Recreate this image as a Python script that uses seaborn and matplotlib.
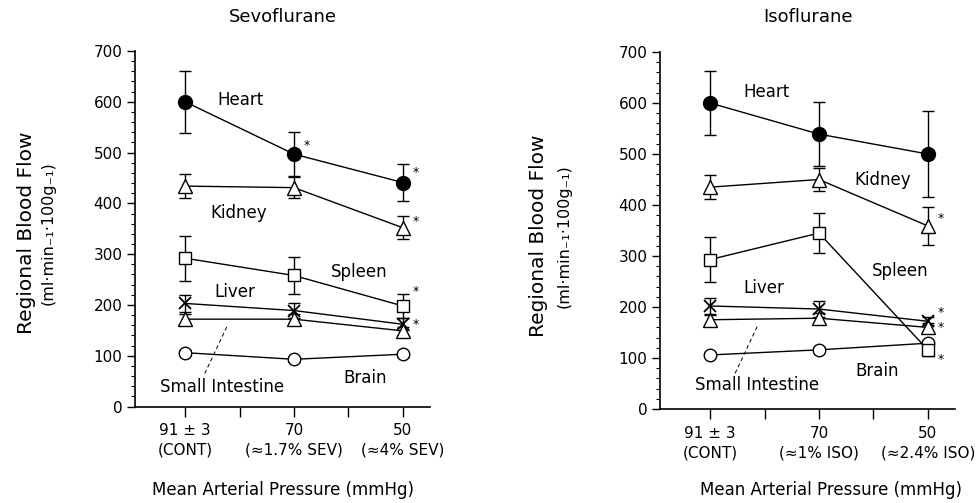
import numpy as np
import pandas as pd
import seaborn as sns
import matplotlib.pyplot as plt
from matplotlib.ticker import MultipleLocator, FixedLocator

# x categories (mean arterial pressure steps)
sev_ticks = ["91 ± 3\n(CONT)", "70\n(≈1.7% SEV)", "50\n(≈4% SEV)"]
iso_ticks = ["91 ± 3\n(CONT)", "70\n(≈1% ISO)", "50\n(≈2.4% ISO)"]
organs = ["Heart", "Kidney", "Spleen", "Liver", "Small Intestine", "Brain"]

# Sevoflurane: means and SE (ml/min/100g)
sev_heart = [600, 497, 441]
sev_heart_err = [61, 43, 37]
sev_kidney = [434, 431, 352]
sev_kidney_err = [23, 20, 23]
sev_spleen = [292, 258, 198]
sev_spleen_err = [44, 37, 24]
sev_liver = [203, 189, 162]
sev_liver_err = [16, 15, 12]
sev_si = [172, 172, 149]
sev_si_err = [10, 10, 8]
sev_brain = [106, 93, 103]
sev_brain_err = [5, 5, 5]

# Isoflurane
iso_heart = [600, 539, 500]
iso_heart_err = [62, 62, 84]
iso_kidney = [435, 450, 359]
iso_kidney_err = [23, 22, 37]
iso_spleen = [293, 345, 116]
iso_spleen_err = [44, 39, 13]
iso_liver = [202, 196, 172]
iso_liver_err = [16, 15, 8]
iso_si = [175, 178, 160]
iso_si_err = [10, 10, 8]
iso_brain = [106, 116, 129]
iso_brain_err = [5, 5, 5]

# significance stars: (x index, y value)
sev_stars = [(1, 513), (2, 460), (2, 364), (2, 226), (2, 162)]
iso_stars = [(2, 374), (2, 189), (2, 159), (2, 98)]

# organ label positions (x, y) in data units
sev_labels = {"Heart": (0.51, 603), "Kidney": (0.49, 381), "Spleen": (1.6, 265),
              "Liver": (0.46, 225), "Small Intestine": (0.34, 39), "Brain": (1.65, 56)}
iso_labels = {"Heart": (0.52, 621), "Kidney": (1.59, 450), "Spleen": (1.75, 270),
              "Liver": (0.49, 237), "Small Intestine": (0.43, 48), "Brain": (1.53, 74)}

styles = {
    "Heart": dict(marker="o", mfc="black", ms=10),
    "Kidney": dict(marker="^", mfc="white", ms=10),
    "Spleen": dict(marker="s", mfc="white", ms=9),
    "Liver": dict(marker="x", mfc="none", ms=8, mew=1.3),
    "Small Intestine": dict(marker="^", mfc="white", ms=10),
    "Brain": dict(marker="o", mfc="white", ms=9),
}

sns.set_style("ticks")
plt.rcParams['font.family'] = ['DejaVu Sans']
for k in ["text.color", "axes.labelcolor", "xtick.color", "ytick.color", "axes.edgecolor"]:
    plt.rcParams[k] = "black"


def draw_panel(ax, data, ticklabels, labels, stars, leader, title, title_x):
    x = [0, 1, 2]
    for organ in ["Brain", "Small Intestine", "Liver", "Spleen", "Kidney", "Heart"]:
        vals, errs = data[organ]
        ax.errorbar(x, vals, yerr=errs, fmt="none", ecolor="black", elinewidth=1,
                    capsize=4, capthick=1, zorder=2)
        st = styles[organ]
        sns.lineplot(x=x, y=vals, ax=ax, color="black", linewidth=1,
                     marker=st["marker"], markerfacecolor=st["mfc"], markeredgecolor="black",
                     markersize=st["ms"], markeredgewidth=st.get("mew", 1), zorder=3)
    for name, (tx, ty) in labels.items():
        ax.text(tx, ty, name, ha="center", va="center", fontsize=12)
    for sx, sy in stars:
        ax.text(sx + 0.12, sy, "*", ha="center", va="center", fontsize=9)
    ax.plot(leader[0], leader[1], color="black", lw=0.7, ls=(0, (4, 3)))

    ax.set_xlim(-0.46, 2.25)
    ax.set_ylim(0, 700)
    ax.set_xticks(x)
    ax.set_xticklabels(ticklabels, fontsize=11, linespacing=1.4)
    ax.xaxis.set_minor_locator(FixedLocator([0.5, 1.5]))
    ax.yaxis.set_major_locator(MultipleLocator(100))
    ax.yaxis.set_minor_locator(MultipleLocator(20))
    ax.tick_params(axis="y", which="major", length=6, width=1, labelsize=11, pad=3)
    ax.tick_params(axis="y", which="minor", length=3, width=0.8)
    ax.tick_params(axis="x", which="both", length=7, width=1, pad=5)
    sns.despine(ax=ax)
    for s in ["left", "bottom"]:
        ax.spines[s].set_linewidth(1.2)
    ax.set_xlabel("")
    ax.set_ylabel("")
    fig.text(title_x, 1 - 17 / 503, title, ha="center", va="center", fontsize=13)


fig = plt.figure(figsize=(9.8, 5.03), dpi=100)
ax1 = fig.add_axes([0.1378, 0.1918, 0.301, 0.7068])
ax2 = fig.add_axes([0.6735, 0.1869, 0.301, 0.7097])

sev = {"Heart": (sev_heart, sev_heart_err), "Kidney": (sev_kidney, sev_kidney_err),
       "Spleen": (sev_spleen, sev_spleen_err), "Liver": (sev_liver, sev_liver_err),
       "Small Intestine": (sev_si, sev_si_err), "Brain": (sev_brain, sev_brain_err)}
iso = {"Heart": (iso_heart, iso_heart_err), "Kidney": (iso_kidney, iso_kidney_err),
       "Spleen": (iso_spleen, iso_spleen_err), "Liver": (iso_liver, iso_liver_err),
       "Small Intestine": (iso_si, iso_si_err), "Brain": (iso_brain, iso_brain_err)}

draw_panel(ax1, sev, sev_ticks, sev_labels, sev_stars, ([0.18, 0.39], [65, 160]),
           "Sevoflurane", 283 / 980)
draw_panel(ax2, iso, iso_ticks, iso_labels, iso_stars, ([0.23, 0.44], [70, 165]),
           "Isoflurane", 808 / 980)

# axis titles placed as figure text
for cx, cx2, cy, mx in [(27, 48, 233, 283), (538, 564, 236, 831)]:
    fig.text(cx / 980, 1 - cy / 503, "Regional Blood Flow", rotation=90,
             ha="center", va="center", fontsize=14.5)
    fig.text(cx2 / 980, 1 - cy / 503, "(ml·min₋₁·100g₋₁)", rotation=90,
             ha="center", va="center", fontsize=11.5)
    fig.text(mx / 980, 1 - 490 / 503, "Mean Arterial Pressure (mmHg)",
             ha="center", va="center", fontsize=12)

fig.savefig("out.png", dpi=100)
